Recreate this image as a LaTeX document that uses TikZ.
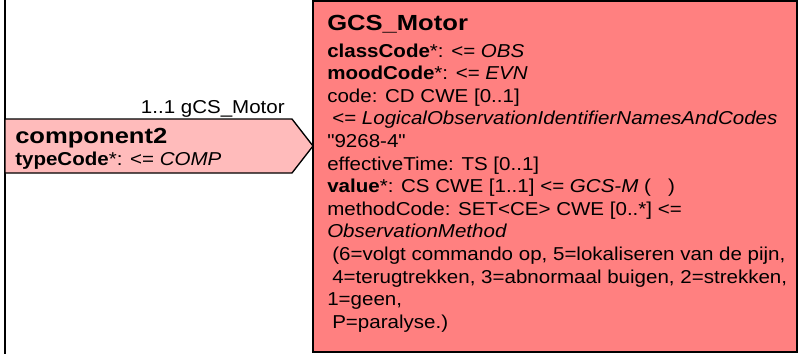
\documentclass[tikz,border=0pt]{standalone}
\usepackage{fontspec}
\setmainfont{Liberation Sans}[Ligatures=TeXOff, FakeStretch=1.1]
\newfontfamily\ttlfont{Liberation Sans}[Ligatures=TeXOff, FakeStretch=1.17]
\definecolor{boxred}{RGB}{255,128,128}
\definecolor{assocpink}{RGB}{255,187,187}
\begin{document}
\begin{tikzpicture}[x=0.75pt,y=-0.75pt,
  attr/.style={anchor=base west, inner sep=0pt, font=\fontsize{14}{16}\selectfont},
  ttl/.style={anchor=base west, inner sep=0pt, font=\ttlfont\fontsize{16.4}{18}\selectfont\bfseries},
  lbl/.style={anchor=base east, inner sep=0pt, font=\fontsize{14}{16}\selectfont}]
\useasboundingbox (0,0) rectangle (799,354);
\fill[white] (0,0) rectangle (799,354);
% choice border line
\draw[line width=1.5pt] (5,0) -- (5,354);
% class box
\draw[fill=boxred, line width=1.2pt] (313,1) rectangle (797,352);
% association pentagon
\draw[fill=assocpink, line width=1pt] (5,119) -- (292,119) -- (313,146) -- (292,173) -- (5,173) -- cycle;
\node[lbl] (mult) at (285,113) {1..1 gCS\_Motor};
\node[ttl] (comp) at (15,143) {component2};
\node[attr] (tc) at (15,165) {\textbf{typeCode}*: <= \textit{COMP}};
% class content
\node[ttl] (title) at (327,30) {GCS\_Motor};
\node[attr] (a1) at (327,57) {\textbf{classCode}*: <= \textit{OBS}};
\node[attr] (a2) at (327,79.6) {\textbf{moodCode}*: <= \textit{EVN}};
\node[attr] (a3) at (327,102.2) {code: CD CWE [0..1]};
\node[attr] (a4) at (332,124.8) {<= \textit{LogicalObservationIdentifierNamesAndCodes}};
\node[attr] (a5) at (327,147.4) {"9268-4"};
\node[attr] (a6) at (327,170) {effectiveTime: TS [0..1]};
\node[attr] (a7) at (327,192.6) {\textbf{value}*: CS CWE [1..1] <= \textit{GCS-M} (\ \ \ )};
\node[attr] (a8) at (327,215.2) {methodCode: SET<CE> CWE [0..*] <=};
\node[attr] (a9) at (327,237.8) {\textit{ObservationMethod}};
\node[attr] (a10) at (332,260.4) {(6=volgt commando op, 5=lokaliseren van de pijn,};
\node[attr] (a11) at (332,283) {4=terugtrekken, 3=abnormaal buigen, 2=strekken,};
\node[attr] (a12) at (327,305.6) {1=geen,};
\node[attr] (a13) at (332,328.2) {P=paralyse.)};
\end{tikzpicture}
\end{document}
